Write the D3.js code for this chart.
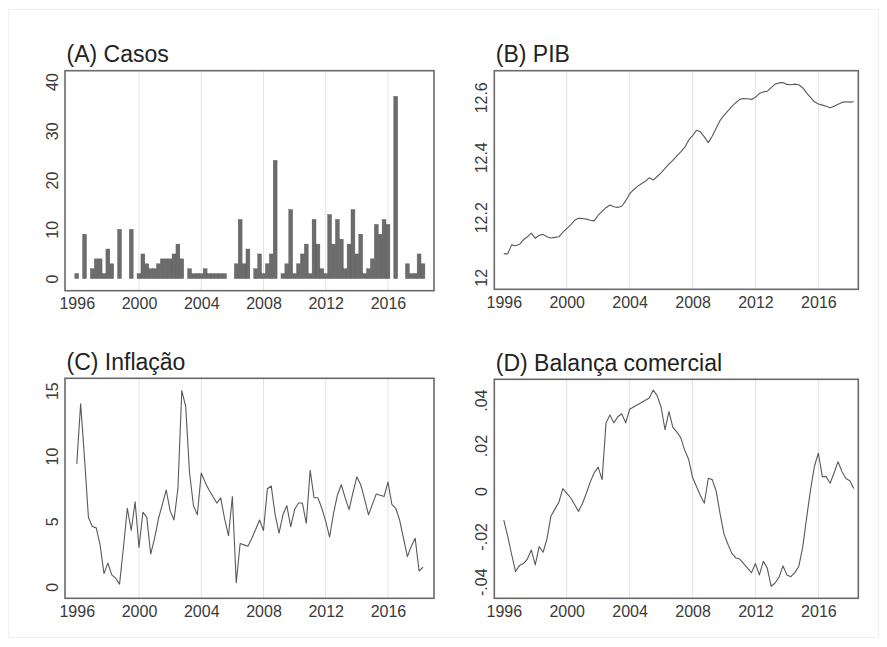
<!DOCTYPE html>
<html>
<head>
<meta charset="utf-8">
<script src="https://cdn.jsdelivr.net/npm/d3@7"></script>
<style>
  body { margin: 0; background: #ffffff; }
  svg { display: block; font-family: "Liberation Sans", Arial, sans-serif; }
</style>
</head>
<body>
<svg id="chart" width="887" height="647"></svg>
<script>
// Quarterly series, 1996Q1 – 2018Q2
const firstYear = 1996;
const nQuarters = 90;

// (A) Casos — number of cases per quarter
const casos = [
  1, 0, 9, 0, 2, 4, 4, 1, 6, 3, 0, 10, 0, 0, 10, 0,
  1, 5, 3, 2, 2, 3, 4, 4, 4, 5, 7, 4, 0, 2, 1, 1,
  1, 2, 1, 1, 1, 1, 1, 0, 0, 3, 12, 3, 6, 0, 2, 5,
  1, 3, 5, 24, 0, 1, 3, 14, 1, 3, 5, 7, 1, 12, 7, 2,
  1, 13, 7, 12, 8, 2, 7, 14, 5, 9, 1, 2, 4, 11, 9, 12,
  11, 0, 37, 0, 0, 3, 1, 1, 5, 3
];

// (B) PIB — log of GDP
const pib = [
  12.078, 12.078, 12.108, 12.105, 12.110, 12.125, 12.135, 12.147, 12.130, 12.140,
  12.143, 12.135, 12.131, 12.133, 12.135, 12.150, 12.162, 12.175, 12.190, 12.197,
  12.196, 12.194, 12.190, 12.188, 12.207, 12.220, 12.232, 12.241, 12.235, 12.233,
  12.237, 12.255, 12.278, 12.292, 12.303, 12.312, 12.320, 12.332, 12.324, 12.336,
  12.348, 12.363, 12.377, 12.390, 12.405, 12.418, 12.433, 12.457, 12.472, 12.490,
  12.485, 12.468, 12.449, 12.470, 12.497, 12.523, 12.540, 12.555, 12.570, 12.582,
  12.593, 12.596, 12.595, 12.593, 12.600, 12.613, 12.618, 12.620, 12.632, 12.644,
  12.648, 12.649, 12.643, 12.642, 12.644, 12.642, 12.632, 12.615, 12.600, 12.585,
  12.578, 12.574, 12.570, 12.565, 12.570, 12.577, 12.583, 12.585, 12.584, 12.585
];

// (C) Inflação — 12-month inflation, %
const inflacao = [
  9.4, 14.0, 9.8, 5.3, 4.6, 4.5, 3.2, 1.0, 1.8, 0.9,
  0.65, 0.2, 3.0, 6.0, 4.3, 6.5, 3.0, 5.7, 5.3, 2.5,
  3.7, 5.2, 6.3, 7.4, 5.8, 5.1, 7.5, 15.0, 13.8, 8.7,
  6.2, 5.5, 8.7, 8.0, 7.4, 6.9, 6.4, 6.8, 5.2, 3.9,
  6.9, 0.3, 3.3, 3.2, 3.1, 3.7, 4.4, 5.1, 4.3, 7.5,
  7.7, 5.5, 4.1, 5.5, 6.2, 4.6, 5.9, 6.4, 6.4, 4.85,
  8.9, 6.8, 6.8, 6.0, 5.0, 3.8, 5.6, 7.0, 7.8, 6.8,
  5.9, 7.2, 8.4, 7.8, 6.7, 5.5, 6.3, 7.1, 7.0, 6.9,
  8.0, 6.3, 6.0, 5.1, 3.7, 2.3, 3.1, 3.7, 1.2, 1.5
];

// (D) Balança comercial — trade balance, share of GDP
const balanca = [
  -0.0128, -0.020, -0.028, -0.0355, -0.0328, -0.032, -0.030, -0.026, -0.0326, -0.0245,
  -0.027, -0.021, -0.011, -0.008, -0.005, 0.001, -0.001, -0.003, -0.006, -0.009,
  -0.0055, -0.001, 0.004, 0.008, 0.0105, 0.005, 0.030, 0.0335, 0.030, 0.0327,
  0.034, 0.030, 0.036, 0.037, 0.038, 0.039, 0.040, 0.041, 0.0445, 0.042,
  0.037, 0.027, 0.035, 0.028, 0.026, 0.0235, 0.018, 0.014, 0.006, 0.002,
  -0.002, -0.0054, 0.0056, 0.005, 0.000, -0.010, -0.019, -0.0235, -0.0275, -0.0295,
  -0.030, -0.032, -0.034, -0.036, -0.032, -0.037, -0.031, -0.034, -0.042, -0.0405,
  -0.038, -0.033, -0.037, -0.0378, -0.036, -0.0333, -0.025, -0.012, 0.0005, 0.011,
  0.0166, 0.0063, 0.0063, 0.0034, 0.008, 0.0129, 0.0085, 0.0055, 0.0045, 0.0011
];

// Axis ticks and labels
const xTicks = [1996, 2000, 2004, 2008, 2012, 2016];
const casosTicks = [0, 10, 20, 30, 40];
const pibTicks = [12, 12.2, 12.4, 12.6];
const inflacaoTicks = [0, 5, 10, 15];
const balancaTicks = [-0.04, -0.02, 0, 0.02, 0.04];
const balancaLabels = ["-.04", "-.02", "0", ".02", ".04"];
const titles = ["(A) Casos", "(B) PIB", "(C) Inflação", "(D) Balança comercial"];

// time index of each quarter
const quarters = d3.range(nQuarters).map(k => firstYear + k / 4);

const svg = d3.select("#chart");

// faint outer border of the graph area
svg.append("rect")
  .attr("x", 8.5).attr("y", 9.5).attr("width", 870).attr("height", 628)
  .attr("fill", "none").attr("stroke", "#f0f0f0");

const panels = [
  { title: titles[0], series: casos, kind: "bar",
    frame: { x0: 65, x1: 434, y0: 70.7, y1: 290.7 },
    xDomain: [1995.244, 2018.959], yDomain: [-2.46, 42.2],
    yTicks: casosTicks, yFormat: d => String(d) },
  { title: titles[1], series: pib, kind: "line",
    frame: { x0: 494.3, x1: 858.3, y0: 70.7, y1: 289.3 },
    xDomain: [1995.397, 2018.538], yDomain: [11.96, 12.6887],
    yTicks: pibTicks, yFormat: d => String(d) },
  { title: titles[2], series: inflacao, kind: "line",
    frame: { x0: 65, x1: 434, y0: 378.3, y1: 598.3 },
    xDomain: [1995.244, 2018.959], yDomain: [-0.888, 15.945],
    yTicks: inflacaoTicks, yFormat: d => String(d) },
  { title: titles[3], series: balanca, kind: "line",
    frame: { x0: 494.3, x1: 858.3, y0: 379.3, y1: 598.3 },
    xDomain: [1995.397, 2018.538], yDomain: [-0.0473, 0.0492],
    yTicks: balancaTicks, yFormat: d => balancaLabels[balancaTicks.indexOf(d)] }
];

panels.forEach(p => {
  const f = p.frame;
  const x = d3.scaleLinear().domain(p.xDomain).range([f.x0, f.x1]);
  const y = d3.scaleLinear().domain(p.yDomain).range([f.y1, f.y0]);
  const g = svg.append("g");

  // vertical gridlines (skipped where they would sit on the frame)
  g.append("g").selectAll("line")
    .data(xTicks.filter(t => x(t) - f.x0 > 15))
    .join("line")
    .attr("x1", d => x(d)).attr("x2", d => x(d))
    .attr("y1", f.y0).attr("y2", f.y1)
    .attr("stroke", "#e3e3e3").attr("stroke-width", 1);

  // data marks
  if (p.kind === "bar") {
    const half = 0.125;
    g.append("g").selectAll("rect")
      .data(quarters.map((t, i) => ({ t, v: p.series[i] })).filter(d => d.v > 0))
      .join("rect")
      .attr("x", d => x(d.t - half))
      .attr("width", d => x(d.t + half) - x(d.t - half))
      .attr("y", d => y(d.v))
      .attr("height", d => y(0) - y(d.v))
      .attr("fill", "#6c6c6c")
      .attr("stroke", "#5a5a5a").attr("stroke-width", 0.4);
  } else {
    const line = d3.line().x((d, i) => x(quarters[i])).y(d => y(d));
    g.append("path")
      .datum(p.series)
      .attr("d", line)
      .attr("fill", "none")
      .attr("stroke", "#595959")
      .attr("stroke-width", 1.1)
      .attr("stroke-linejoin", "round");
  }

  // plot frame
  g.append("rect")
    .attr("x", f.x0).attr("y", f.y0)
    .attr("width", f.x1 - f.x0).attr("height", f.y1 - f.y0)
    .attr("fill", "none").attr("stroke", "#6a6a6a").attr("stroke-width", 1.6);

  // x axis
  const xAxis = g.append("g")
    .attr("transform", `translate(0,${f.y1})`)
    .call(d3.axisBottom(x).tickValues(xTicks).tickFormat(d3.format("d")).tickSize(0).tickPadding(7));
  xAxis.select(".domain").remove();
  xAxis.selectAll("text")
    .attr("font-size", 16).attr("fill", "#3a3a3a")
    .attr("font-family", "'Liberation Sans', Arial, sans-serif");

  // y axis, labels turned vertical
  const yAxis = g.append("g")
    .attr("transform", `translate(${f.x0},0)`)
    .call(d3.axisLeft(y).tickValues(p.yTicks).tickFormat(p.yFormat).tickSize(0));
  yAxis.select(".domain").remove();
  yAxis.selectAll("text")
    .attr("transform", "rotate(-90)")
    .attr("text-anchor", "middle")
    .attr("x", 0).attr("y", -7).attr("dy", 0)
    .attr("font-size", 16).attr("fill", "#3a3a3a")
    .attr("font-family", "'Liberation Sans', Arial, sans-serif");

  // panel title
  g.append("text")
    .attr("x", f.x0 + 1.5).attr("y", f.y0 - 8.3)
    .attr("font-size", 23).attr("fill", "#222")
    .text(p.title);
});
</script>
</body>
</html>
